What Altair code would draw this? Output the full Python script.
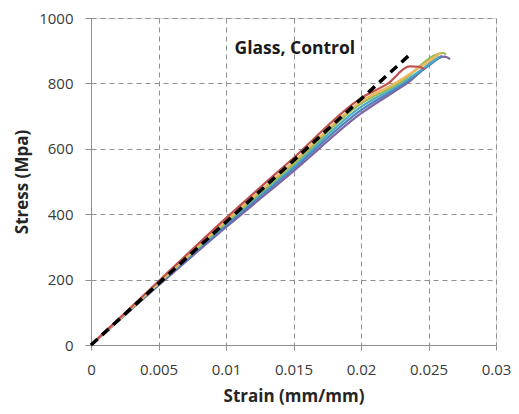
import altair as alt
import pandas as pd

# Data
dash_strain = [0.0, 0.0238]
dash_stress = [0, 895]

red_strain = [0.0, 0.005, 0.01, 0.015, 0.02, 0.022, 0.0236, 0.0243, 0.0247]
red_stress = [0, 195, 388, 572, 755, 800, 852, 851, 843]

tan_strain = [0.0, 0.005, 0.01, 0.015, 0.02, 0.0225, 0.0259]
tan_stress = [0, 190, 380, 560, 745, 800, 893]

green_strain = [0.0, 0.005, 0.01, 0.015, 0.02, 0.0228, 0.0261, 0.0263]
green_stress = [0, 188, 375, 553, 738, 800, 893, 888]

cyan_strain = [0.0, 0.005, 0.01, 0.015, 0.02, 0.023, 0.0258]
cyan_stress = [0, 187, 372, 547, 728, 800, 882]

blue_strain = [0.0, 0.005, 0.01, 0.015, 0.02, 0.0232, 0.026]
blue_stress = [0, 185, 366, 540, 718, 800, 885]

purple_strain = [0.0, 0.005, 0.01, 0.015, 0.02, 0.0234, 0.0262, 0.0266]
purple_stress = [0, 182, 360, 532, 708, 800, 882, 874]

series = [
    ("Purple", purple_strain, purple_stress, "#8064A2"),
    ("Blue", blue_strain, blue_stress, "#4F81BD"),
    ("Cyan", cyan_strain, cyan_stress, "#4BACC6"),
    ("Green", green_strain, green_stress, "#9BBB59"),
    ("Tan", tan_strain, tan_stress, "#EDB85A"),
    ("Red", red_strain, red_stress, "#C0504D"),
]

rows = []
for name, xs_, ys_, col in series:
    for j, (x, y) in enumerate(zip(xs_, ys_)):
        rows.append({"series": name, "strain": x, "stress": y, "order": j})
df = pd.DataFrame(rows)

df_dash = pd.DataFrame({"strain": dash_strain, "stress": dash_stress})

x_ticks = [0, 0.005, 0.01, 0.015, 0.02, 0.025, 0.03]
y_ticks = [0, 200, 400, 600, 800, 1000]

FONT = "Open Sans"

xs = alt.X("strain:Q", scale=alt.Scale(domain=[0, 0.03], nice=False),
           axis=alt.Axis(values=x_ticks, title="Strain (mm/mm)", format="~g",
                         grid=True, gridDash=[5, 4], gridColor="#8f8f8f",
                         domainColor="#8f8f8f", tickColor="#8f8f8f", tickSize=5,
                         labelPadding=12, labelFontSize=15, labelFont=FONT,
                         labelColor="#3a3a3a", titleFont=FONT, titleFontSize=17,
                         titleFontWeight="bold", titleColor="#262626",
                         titlePadding=11, labelFlush=False))
ys = alt.Y("stress:Q", scale=alt.Scale(domain=[0, 1000], nice=False),
           axis=alt.Axis(values=y_ticks, title="Stress (Mpa)", format="d",
                         grid=True, gridDash=[5, 4], gridColor="#8f8f8f",
                         domainColor="#8f8f8f", tickColor="#8f8f8f", tickSize=6,
                         labelPadding=12, labelFontSize=15, labelFont=FONT,
                         labelColor="#3a3a3a", titleFont=FONT, titleFontSize=17,
                         titleFontWeight="bold", titleColor="#262626",
                         titlePadding=7))

lines = alt.Chart(df).mark_line(strokeWidth=2.2, interpolate="monotone").encode(
    x=xs, y=ys,
    color=alt.Color("series:N",
                    scale=alt.Scale(domain=[s[0] for s in series],
                                    range=[s[3] for s in series]),
                    legend=None),
    order="order:Q",
)

dash = alt.Chart(df_dash).mark_line(color="black", strokeWidth=3.5,
                                    strokeDash=[9, 6]).encode(
    x="strain:Q", y="stress:Q")

title_df = pd.DataFrame({"strain": [0.0151], "stress": [905], "label": ["Glass, Control"]})
title = alt.Chart(title_df).mark_text(font=FONT, fontSize=17.5, fontWeight="bold",
                                      color="#1a1a1a").encode(
    x="strain:Q", y="stress:Q", text="label:N")

chart = alt.layer(lines, dash, title).properties(
    width=405, height=327,
    autosize="none",
    padding={"left": 83, "top": 10, "right": 15, "bottom": 60},
).configure_view(stroke=None).configure(background="white")

chart.save("out.html", embed_options={"renderer": "svg", "actions": False})
